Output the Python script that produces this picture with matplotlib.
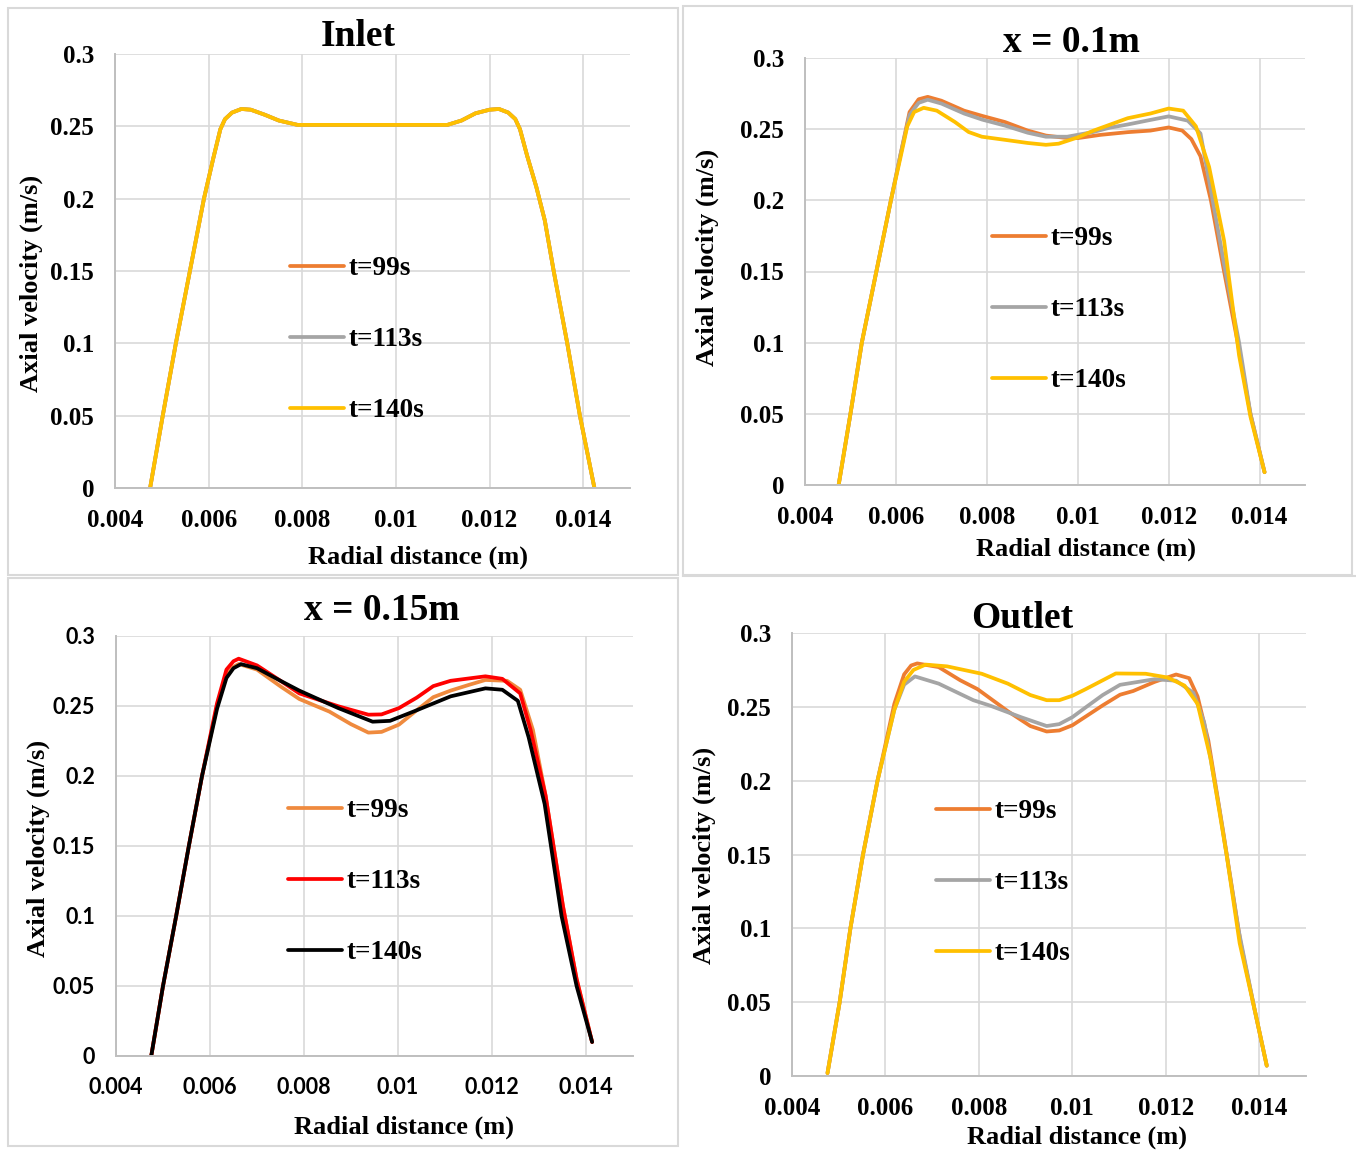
import matplotlib
matplotlib.use("Agg")
import matplotlib.pyplot as plt
from matplotlib.patches import Rectangle

plt.rcParams['font.family'] = ['Liberation Serif', 'DejaVu Serif']
plt.rcParams['font.weight'] = 'bold'

# ---- data (radial distance m, axial velocity m/s) ----
x_ticks = [0.004, 0.006, 0.008, 0.010, 0.012, 0.014]
x_ticklabels = ["0.004", "0.006", "0.008", "0.01", "0.012", "0.014"]
y_ticks = [0, 0.05, 0.10, 0.15, 0.20, 0.25, 0.30]
y_ticklabels = ["0", "0.05", "0.1", "0.15", "0.2", "0.25", "0.3"]
labels = ["t=99s", "t=113s", "t=140s"]

# Inlet: the three times coincide
r_in = [0.00475, 0.00502, 0.0053, 0.0056, 0.0059, 0.0061, 0.00625, 0.00635, 0.0065, 0.0067,
        0.0069, 0.0072, 0.0075, 0.0079, 0.0085, 0.0095, 0.0105, 0.0111, 0.0114, 0.0117,
        0.0120, 0.0122, 0.0124, 0.01255, 0.01265, 0.0128, 0.0130, 0.01318, 0.01337, 0.01366, 0.01393, 0.01424]
v_in = [0, 0.05, 0.10, 0.15, 0.20, 0.228, 0.248, 0.255, 0.2595, 0.262,
        0.2615, 0.258, 0.254, 0.251, 0.251, 0.251, 0.251, 0.251, 0.254, 0.259,
        0.2615, 0.262, 0.2595, 0.255, 0.248, 0.230, 0.208, 0.185, 0.15, 0.10, 0.05, 0]

# x = 0.1 m
r01_99 = [0.00474, 0.0050, 0.00525, 0.00557, 0.00589, 0.0061, 0.0063, 0.0065, 0.0067, 0.0070,
          0.0075, 0.0079, 0.0084, 0.0089, 0.0093, 0.0097, 0.0100, 0.0105, 0.0111, 0.0116,
          0.0120, 0.0123, 0.0125, 0.0127, 0.01293, 0.01322, 0.01352, 0.0138, 0.01411]
v01_99 = [0, 0.05, 0.10, 0.15, 0.20, 0.232, 0.262, 0.271, 0.2727, 0.270,
          0.263, 0.2593, 0.255, 0.249, 0.2455, 0.244, 0.2437, 0.246, 0.2479, 0.249,
          0.2512, 0.249, 0.243, 0.231, 0.20, 0.15, 0.10, 0.05, 0.009]
r01_113 = [0.00474, 0.0050, 0.00525, 0.00557, 0.00589, 0.0061, 0.0063, 0.0065, 0.0067, 0.0070,
           0.0075, 0.0079, 0.0084, 0.0089, 0.0093, 0.00977, 0.01034, 0.0107, 0.0111, 0.0116,
           0.0120, 0.01242, 0.0127, 0.01297, 0.01325, 0.01355, 0.0138, 0.01411]
v01_113 = [0, 0.05, 0.10, 0.15, 0.20, 0.232, 0.260, 0.2685, 0.2707, 0.268,
           0.261, 0.2567, 0.2525, 0.2475, 0.2447, 0.2447, 0.248, 0.251, 0.2533, 0.2565,
           0.259, 0.256, 0.247, 0.20, 0.15, 0.10, 0.05, 0.009]
r01_140 = [0.00474, 0.0050, 0.00525, 0.00557, 0.00589, 0.0061, 0.00625, 0.0064, 0.00661, 0.0069,
           0.0073, 0.0076, 0.00789, 0.0084, 0.0089, 0.0093, 0.00958, 0.0100, 0.01035, 0.01072,
           0.0111, 0.0116, 0.0120, 0.01232, 0.0126, 0.01289, 0.01322, 0.01355, 0.0138, 0.01411]
v01_140 = [0, 0.05, 0.10, 0.15, 0.20, 0.23, 0.252, 0.262, 0.265, 0.263,
           0.255, 0.248, 0.2447, 0.2425, 0.2403, 0.239, 0.2398, 0.2442, 0.249, 0.2533,
           0.2577, 0.261, 0.2645, 0.263, 0.252, 0.2235, 0.1716, 0.091, 0.048, 0.009]

# x = 0.15 m
r015_99 = [0.00475, 0.0050, 0.00528, 0.00555, 0.00583, 0.00615, 0.00635, 0.0065, 0.00661, 0.0070,
           0.0075, 0.0079, 0.00854, 0.0090, 0.00937, 0.00965, 0.01002, 0.0104, 0.01075, 0.01112,
           0.0115, 0.01186, 0.01232, 0.0126, 0.01287, 0.01314, 0.01351, 0.0138, 0.01413]
v015_99 = [0, 0.05, 0.10, 0.15, 0.20, 0.25, 0.272, 0.278, 0.280, 0.276,
           0.264, 0.255, 0.246, 0.237, 0.231, 0.2315, 0.2367, 0.247, 0.2563, 0.261,
           0.265, 0.2686, 0.268, 0.2616, 0.233, 0.186, 0.107, 0.055, 0.01]
r015_113 = [0.00475, 0.0050, 0.00528, 0.00555, 0.00583, 0.00615, 0.00635, 0.0065, 0.00661, 0.0070,
            0.0075, 0.0079, 0.00873, 0.00937, 0.00965, 0.01002, 0.0104, 0.01075, 0.01112, 0.01186,
            0.01222, 0.0126, 0.01282, 0.01314, 0.01351, 0.0138, 0.01413]
v015_113 = [0, 0.05, 0.10, 0.15, 0.20, 0.252, 0.276, 0.282, 0.2838, 0.279,
            0.268, 0.259, 0.2498, 0.2438, 0.244, 0.2485, 0.256, 0.2642, 0.268, 0.2712,
            0.2694, 0.259, 0.233, 0.186, 0.107, 0.055, 0.01]
r015_140 = [0.00475, 0.0050, 0.00528, 0.00555, 0.00583, 0.00615, 0.00635, 0.0065, 0.00666, 0.0070,
            0.0075, 0.0079, 0.00873, 0.00946, 0.00983, 0.01038, 0.01112, 0.01186, 0.01222, 0.01255,
            0.01278, 0.01312, 0.01348, 0.0138, 0.01413]
v015_140 = [0, 0.05, 0.10, 0.15, 0.20, 0.248, 0.27, 0.277, 0.2799, 0.277,
            0.268, 0.261, 0.2485, 0.2388, 0.2394, 0.2467, 0.2569, 0.2626, 0.2616, 0.2537,
            0.2276, 0.18, 0.10, 0.05, 0.01]

# Outlet
r_out_99 = [0.00476, 0.00502, 0.00525, 0.00552, 0.00583, 0.00619, 0.0064, 0.00655, 0.00668, 0.00714,
            0.0076, 0.00797, 0.00862, 0.0091, 0.00945, 0.00972, 0.0100, 0.01028, 0.01065, 0.01102,
            0.0113, 0.01176, 0.01222, 0.0125, 0.01268, 0.01291, 0.01323, 0.0136, 0.0139, 0.01416]
v_out_99 = [0.002, 0.05, 0.10, 0.15, 0.20, 0.252, 0.272, 0.278, 0.2794, 0.2769,
            0.268, 0.262, 0.247, 0.237, 0.2333, 0.234, 0.2375, 0.2433, 0.251, 0.2582,
            0.2607, 0.2669, 0.2719, 0.2694, 0.257, 0.2271, 0.165, 0.0903, 0.045, 0.007]
r_out_113 = [0.00476, 0.00502, 0.00525, 0.00552, 0.00583, 0.00619, 0.0064, 0.00663, 0.00714, 0.00788,
             0.00825, 0.0089, 0.00945, 0.00972, 0.0100, 0.01028, 0.01065, 0.01102, 0.01176, 0.01222,
             0.01259, 0.01282, 0.01315, 0.01355, 0.0139, 0.01416]
v_out_113 = [0.002, 0.05, 0.10, 0.15, 0.20, 0.248, 0.265, 0.2706, 0.2657, 0.2545,
             0.2507, 0.243, 0.237, 0.2383, 0.243, 0.2495, 0.258, 0.2649, 0.2687, 0.2677,
             0.2595, 0.2396, 0.18, 0.10, 0.045, 0.007]
r_out_140 = [0.00476, 0.00502, 0.00525, 0.00552, 0.00583, 0.00619, 0.0064, 0.0066, 0.00686, 0.00732,
             0.00806, 0.00862, 0.0091, 0.00945, 0.00972, 0.0100, 0.01028, 0.01093, 0.01157, 0.01203,
             0.0124, 0.01268, 0.01296, 0.0133, 0.01358, 0.0139, 0.01416]
v_out_140 = [0.002, 0.05, 0.10, 0.15, 0.20, 0.248, 0.267, 0.275, 0.2786, 0.2774,
             0.2724, 0.2657, 0.258, 0.2545, 0.2545, 0.2575, 0.2619, 0.2726, 0.2724, 0.2699,
             0.2644, 0.252, 0.2147, 0.15, 0.09, 0.045, 0.007]

ORANGE, GRAY, YELLOW = "#ED7D31", "#A5A5A5", "#FFC000"

W, H = 1356, 1151
fig = plt.figure(figsize=(W / 100, H / 100), dpi=100)


def px_box(l, t, r, b):
    return [l / W, 1 - b / H, (r - l) / W, (b - t) / H]


def panel(box, title, title_xy, series, colors, leg_xy, xl_xy, yl_xy, tick_font=None):
    l, t, r, b = box
    ax = fig.add_axes(px_box(l, t, r, b))
    for (xs, ys), c, lab in zip(series, colors, labels):
        ax.plot(xs, ys, color=c, lw=2.7, label=lab, solid_capstyle='round', solid_joinstyle='round')
    ax.set_xlim(0.004, 0.015)
    ax.set_ylim(0, 0.3)
    ax.set_xticks(x_ticks)
    ax.set_yticks(y_ticks)
    fk = dict(fontsize=18, fontweight='bold')
    if tick_font:
        fk['family'] = tick_font
        fk['fontsize'] = 15.5
    ax.set_xticklabels(x_ticklabels, **fk)
    ax.set_yticklabels(y_ticklabels, **fk)
    ax.tick_params(length=0, pad=15)
    ax.grid(True, color="#D9D9D9", lw=1.2)
    ax.set_axisbelow(True)
    for s in ['top', 'right']:
        ax.spines[s].set_visible(False)
    for s in ['left', 'bottom']:
        ax.spines[s].set_color("#BFBFBF")
        ax.spines[s].set_linewidth(1.4)
    fig.text(title_xy[0] / W, 1 - title_xy[1] / H, title, fontsize=27, fontweight='bold',
             ha='center', va='center')
    fig.text(xl_xy[0] / W, 1 - xl_xy[1] / H, "Radial distance (m)", fontsize=19,
             fontweight='bold', ha='center', va='center')
    fig.text(yl_xy[0] / W, 1 - yl_xy[1] / H, "Axial velocity (m/s)", fontsize=19,
             fontweight='bold', ha='center', va='center', rotation=90)
    lx = (leg_xy[0] - l) / (r - l)
    ly = (b - leg_xy[1]) / (b - t)
    ax.legend(loc='upper left', bbox_to_anchor=(lx, ly), frameon=False,
              handlelength=2.0, handletextpad=0.15, labelspacing=1.7,
              borderpad=0, borderaxespad=0, prop={'weight': 'bold', 'size': 19.5})
    return ax


panel((115, 54, 630, 488), "Inlet", (358, 36),
      [(r_in, v_in), (r_in, v_in), (r_in, v_in)], [ORANGE, GRAY, YELLOW],
      (290, 256), (418, 557), (31, 283))
panel((805, 58, 1305, 485), "x = 0.1m", (1071, 42),
      [(r01_99, v01_99), (r01_113, v01_113), (r01_140, v01_140)], [ORANGE, GRAY, YELLOW],
      (992, 226), (1086, 549), (707, 257))
panel((116, 636, 633, 1056), "x = 0.15m", (382, 611),
      [(r015_99, v015_99), (r015_113, v015_113), (r015_140, v015_140)], ["#EF8A3E", "#FF0000", "#000000"],
      (288, 798), (404, 1127), (38, 848), tick_font=['Lato', 'DejaVu Sans'])
panel((792, 633, 1306, 1076), "Outlet", (1022, 618),
      [(r_out_99, v_out_99), (r_out_113, v_out_113), (r_out_140, v_out_140)], [ORANGE, GRAY, YELLOW],
      (936, 799), (1077, 1137), (704, 855))

# light panel frames
for (x0, y0, x1, y1) in [(8, 8, 678, 575), (683, 6, 1352, 575), (8, 578, 678, 1146)]:
    fig.add_artist(Rectangle((x0 / W, 1 - y1 / H), (x1 - x0) / W, (y1 - y0) / H,
                             transform=fig.transFigure, fill=False, ec="#D9D9D9", lw=1.5))
fig.add_artist(plt.Line2D([683 / W, 1], [1 - 576 / H, 1 - 576 / H], transform=fig.transFigure,
                          color="#D9D9D9", lw=1.5))

fig.savefig("out.png", dpi=100)
